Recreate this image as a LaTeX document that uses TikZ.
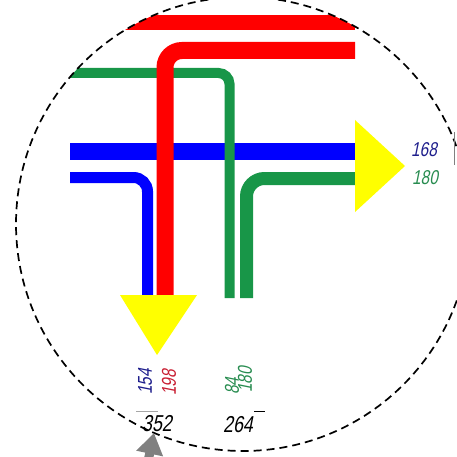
\documentclass[tikz,border=0pt]{standalone}
\usepackage{fontspec}
\usepackage{tikz}
\usetikzlibrary{arrows.meta}
\newfontfamily\techfont[FakeStretch=0.77,FakeSlant=0.2]{Liberation Sans}

\definecolor{pipeblue}{RGB}{0,0,255}
\definecolor{pipered}{RGB}{255,0,0}
\definecolor{pipegreen}{RGB}{24,150,72}
\definecolor{arrowyellow}{RGB}{255,255,0}
\definecolor{txtblue}{RGB}{30,30,140}
\definecolor{txtred}{RGB}{200,30,50}
\definecolor{txtgreen}{RGB}{40,140,80}

\tikzset{
  flow/.style={line cap=butt},
  bigarrow/.style={fill=arrowyellow, draw=none},
  num/.style={inner sep=0pt, font=\techfont\fontsize{20}{21}\selectfont},
  sum/.style={inner sep=0pt, font=\techfont\fontsize{23}{24}\selectfont}
}

\begin{document}
\begin{tikzpicture}[x=1pt, y=-1pt]
    \useasboundingbox (0,0) rectangle (457,457);

    % Blue streams
    \draw[flow, pipeblue, line width=17pt] (70,152) -- (355,152);
    \draw[flow, pipeblue, line width=11pt, rounded corners=14pt] (70,177.5) -- (147.5,177.5) -- (147.5,295);

    % Green streams
    \begin{scope}
        \clip (243,224) circle (227);
        \draw[flow, pipegreen, line width=10pt, rounded corners=11pt] (40,73) -- (229.5,73) -- (229.5,298);
    \end{scope}
    \draw[flow, pipegreen, line width=13pt, rounded corners=18pt] (355,178.5) -- (246.5,178.5) -- (246.5,298);

    % Red streams
    \begin{scope}
        \clip (243,224) circle (227);
        \fill[pipered] (100,15) rectangle (355,30);
    \end{scope}
    \draw[flow, pipered, line width=17pt, rounded corners=17pt] (355,50.5) -- (165,50.5) -- (165,295);

    % Outlet arrows
    \fill[bigarrow] (355,120) -- (405,166) -- (355,212) -- cycle;
    \fill[bigarrow] (120,295) -- (197,295) -- (157,355) -- cycle;

    % Boundary
    \draw[black, line width=1.7pt, dash pattern=on 8pt off 5pt] (243,224) circle (227);
    \draw[gray, line width=0.8pt] (454,132) -- (454,165);

    % Flow values
    \node[num, txtblue] (qOutR) at (424,150) {168};
    \node[num, txtgreen] (gOutR) at (425,178) {180};
    \node[num, txtblue, rotate=90] (qOutB) at (145,382) {154};
    \node[num, txtred, rotate=90] (rOutB) at (169,383) {198};
    \node[num, txtgreen, rotate=90] (gOutA) at (232,386) {84};
    \node[num, txtgreen, rotate=90] (gOutB) at (245,380) {180};

    % Totals
    \node[sum] (sumB) at (157,424) {352};
    \node[sum] (sumG) at (238,425) {264};
    \draw[gray!70, line width=0.8pt] (136,411) -- (158,411);
    \draw[black, line width=0.8pt] (254,411) -- (265,411);

    % Pointer
    \draw[gray, line width=9pt, -{Triangle[width=26pt,length=21pt]}] (143,485) -- (154,433);
\end{tikzpicture}
\end{document}
